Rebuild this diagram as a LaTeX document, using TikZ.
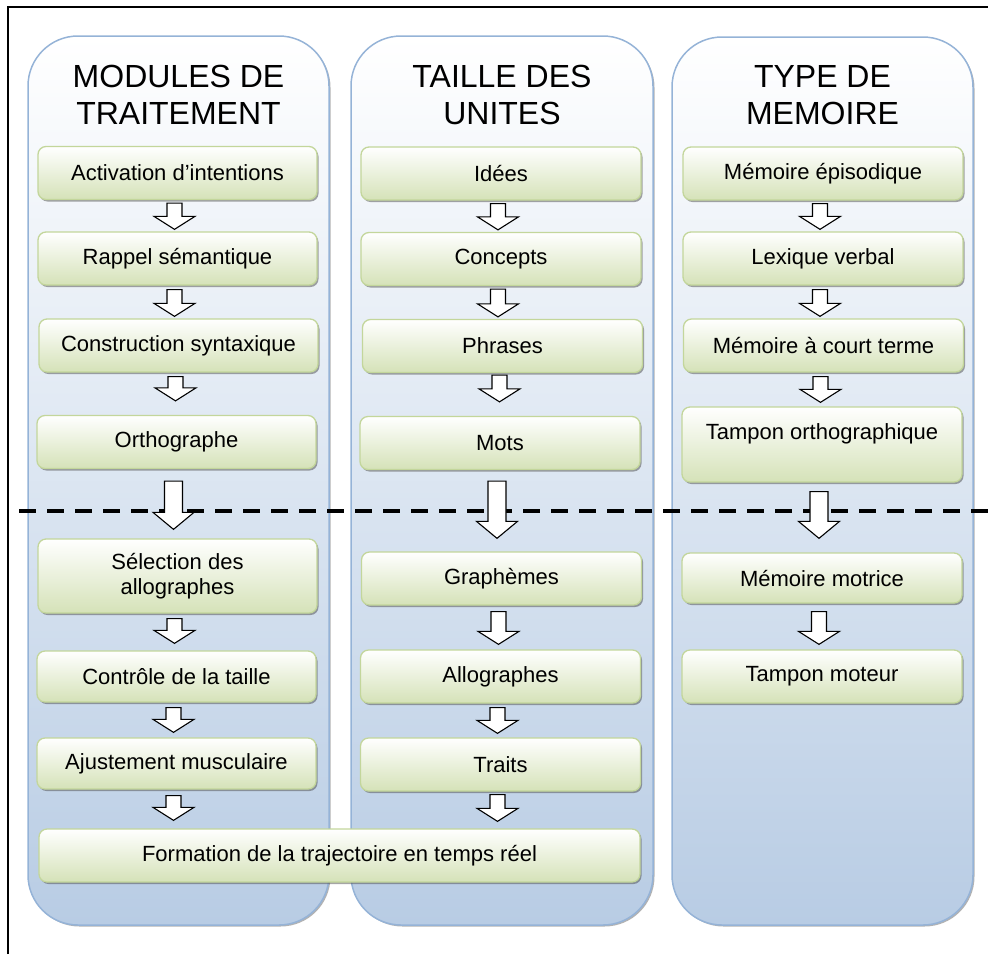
\documentclass[tikz,border=0pt]{standalone}
\usepackage{fontspec}
\setmainfont{Liberation Sans}
\usetikzlibrary{calc,shadows}
\definecolor{colborder}{RGB}{149,179,215}
\definecolor{colbot}{RGB}{184,204,228}
\definecolor{boxbot}{RGB}{213,226,184}
\definecolor{boxborder}{RGB}{195,214,155}
\tikzset{
  colbox/.style={draw=colborder, line width=1.5pt, rounded corners=50pt,
    top color=white, bottom color=colbot,
    drop shadow={shadow xshift=1.5pt, shadow yshift=-1.5pt, fill=black!60, opacity=0.5}},
  stepbox/.style={draw=boxborder, line width=1.3pt, rounded corners=8pt,
    top color=white, bottom color=boxbot, align=center,
    font=\fontsize{22}{25}\selectfont, minimum height=53pt, inner sep=2pt,
    drop shadow={shadow xshift=1.5pt, shadow yshift=-2pt, fill=black!70, opacity=0.5}},
  boxa/.style={stepbox, minimum width=279pt},
  boxb/.style={stepbox, minimum width=280pt},
  coltitle/.style={anchor=north, inner sep=0pt, align=center,
    font=\fontsize{32}{37}\selectfont},
  arrowsty/.style={draw=black, fill=white, line width=1.1pt, line join=miter},
}
% short block arrow: from, to
\newcommand{\barrow}[4]{%
  \draw[arrowsty] let \p1=($(#1)+(-3pt,-#3)$), \p2=($(#2)+(0,#4)$) in
    (\x1-7.5pt,\y1) -- (\x1+7.5pt,\y1) -- (\x1+7.5pt,\y2+13pt) -- (\x1+20.5pt,\y2+13pt)
    -- (\x1,\y2) -- (\x1-20.5pt,\y2+13pt) -- (\x1-7.5pt,\y2+13pt) -- cycle;}
% long block arrow
\newcommand{\larrow}[4]{%
  \draw[arrowsty] let \p1=($(#1)+(-3pt,-#3)$), \p2=($(#2)+(0,#4)$) in
    (\x1-9pt,\y1) -- (\x1+9pt,\y1) -- (\x1+9pt,\y2+17pt) -- (\x1+20.5pt,\y2+17pt)
    -- (\x1,\y2) -- (\x1-20.5pt,\y2+17pt) -- (\x1-9pt,\y2+17pt) -- cycle;}
\begin{document}
\begin{tikzpicture}[x=1pt,y=-1pt]
\useasboundingbox (0,0) rectangle (988,954);
% columns
\path[colbox] (28,36) rectangle (329,925);
\path[colbox] (351,36) rectangle (653,925);
\path[colbox] (672,37) rectangle (973,925);
% titles
\node[coltitle] (t1) at (178.5,65) {MODULES DE\\TRAITEMENT};
\node[coltitle] (t2) at (502,65) {TAILLE DES\\UNITES};
\node[coltitle] (t3) at (822.5,65) {TYPE DE\\MEMOIRE};
% column 1
\node[boxa] (act) at (177.5,173) {Activation d’intentions};
\node[boxa] (rap) at (177.5,258.5) {Rappel sémantique};
\node[boxa] (con) at (178.5,345.5) {Construction syntaxique};
\node[boxa] (ort) at (176.5,442) {Orthographe};
\node[boxa, minimum height=74pt] (sel) at (177.5,576) {Sélection des\\allographes};
\node[boxa, minimum height=51pt] (ctl) at (176.5,676.5) {Contrôle de la taille};
\node[boxa, minimum height=51pt] (aju) at (176.5,763.5) {Ajustement musculaire};
% column 2
\node[boxb] (ide) at (501,173.5) {Idées};
\node[boxb] (cpt) at (501,259) {Concepts};
\node[boxb] (phr) at (502.5,346) {Phrases};
\node[boxb] (mot) at (500,443) {Mots};
\node[boxb] (gra) at (501.5,578.5) {Graphèmes};
\node[boxb] (all) at (500.5,676.5) {Allographes};
\node[boxb] (tra) at (500.5,764.5) {Traits};
% column 3
\node[boxb] (epi) at (823,173.5) {Mémoire épisodique};
\node[boxb] (lex) at (823,258.5) {Lexique verbal};
\node[boxb] (mct) at (823.5,345.5) {Mémoire à court terme};
\node[boxb, minimum height=75pt] (tor) at (822,444.5) {Tampon orthographique\\~};
\node[boxb, minimum height=50pt] (mmo) at (822,578) {Mémoire motrice};
\node[boxb] (tmo) at (822,676.5) {Tampon moteur};
% bottom wide box
\node[stepbox, minimum width=601pt] (form) at (339.5,855.5) {Formation de la trajectoire en temps réel};
% dashed separator
\coordinate (dl) at (19,511);
\coordinate (dr) at (988,511);
\draw[line width=4.5pt, dash pattern=on 17pt off 11pt] (dl) -- (dr);
% arrows column 1
\barrow{act.south}{rap.north}{3pt}{2pt}
\barrow{rap.south}{con.north}{4pt}{2pt}
\barrow{con.south}{ort.north}{4pt}{14pt}
\larrow{ort.south}{sel.north}{12pt}{9pt}
\barrow{sel.south}{ctl.north}{5pt}{7pt}
\barrow{ctl.south}{aju.north}{5pt}{5pt}
\barrow{aju.south}{form.north -| aju.south}{6pt}{8pt}
% arrows column 2
\barrow{ide.south}{cpt.north}{3pt}{2pt}
\barrow{cpt.south}{phr.north}{3pt}{2pt}
\barrow{phr.south}{mot.north}{2pt}{14pt}
\larrow{mot.south}{gra.north}{11pt}{13pt}
\barrow{gra.south}{all.north}{6pt}{5pt}
\barrow{all.south}{tra.north}{4pt}{4pt}
\barrow{tra.south}{form.north -| tra.south}{3pt}{7pt}
% arrows column 3
\barrow{epi.south}{lex.north}{3pt}{2pt}
\barrow{lex.south}{mct.north}{4pt}{2pt}
\barrow{mct.south}{tor.north}{4pt}{4pt}
\larrow{tor.south}{mmo.north}{9pt}{14pt}
\barrow{mmo.south}{tmo.north}{8pt}{5pt}
% frame
\coordinate (fb) at (8,954);
\coordinate (ft) at (8,7);
\coordinate (fr) at (988,7);
\draw[line width=1.5pt] (fb) -- (ft) -- (fr);
\end{tikzpicture}
\end{document}
